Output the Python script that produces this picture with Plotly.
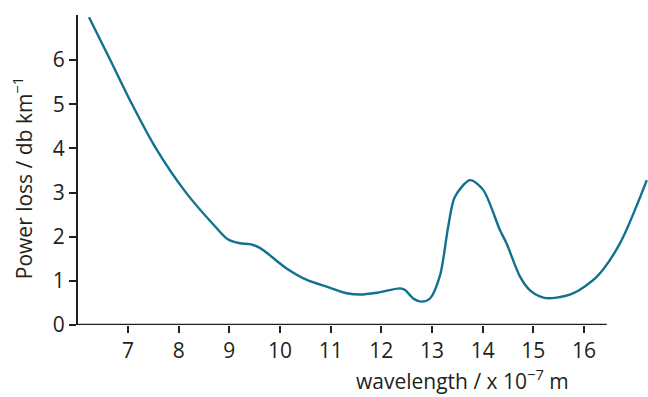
import plotly.graph_objects as go

# Attenuation of an optical fibre versus wavelength
wavelength = [6.23, 6.65, 7.07, 7.53, 8.13, 8.72, 8.97, 9.21, 9.41, 9.61,
              10.13, 10.53, 10.92, 11.32, 11.58, 11.91, 12.37, 12.47, 12.63,
              12.80, 12.96, 13.16, 13.32, 13.45, 13.75, 14.01, 14.34, 14.47,
              14.74, 14.93, 15.20, 15.46, 15.79, 16.25, 16.71, 17.24]
power_loss = [6.97, 6.00, 5.02, 4.04, 3.02, 2.23, 1.94, 1.85, 1.83, 1.74,
              1.28, 1.02, 0.87, 0.72, 0.69, 0.73, 0.83, 0.79, 0.60,
              0.53, 0.60, 1.13, 2.23, 2.90, 3.28, 3.06, 2.15, 1.85,
              1.09, 0.79, 0.62, 0.62, 0.72, 1.09, 1.85, 3.28]

x_ticks = [7, 8, 9, 10, 11, 12, 13, 14, 15, 16]
y_ticks = [0, 1, 2, 3, 4, 5, 6]

FONT = "Open Sans"
INK = "#231f20"
CURVE = "#11718f"
SIZE = 21

fig = go.Figure()
fig.add_trace(go.Scatter(
    x=wavelength, y=power_loss, mode="lines",
    line=dict(color=CURVE, width=2.4, shape="spline", smoothing=0.8),
    hoverinfo="skip", showlegend=False,
))

X_MIN, X_MAX = 6.013, 17.263
AXIS_END = 16.45

fig.update_layout(
    width=648, height=397,
    margin=dict(l=78, r=0, t=15, b=72),
    paper_bgcolor="white", plot_bgcolor="white",
    font=dict(family=FONT, size=SIZE, color=INK),
    xaxis=dict(
        range=[X_MIN, X_MAX], tickvals=x_ticks, ticktext=[str(v) for v in x_ticks],
        ticks="outside", ticklen=7, tickwidth=2, tickcolor=INK,
        tickfont=dict(family=FONT, size=SIZE, color=INK),
        showline=False, showgrid=False, zeroline=False, fixedrange=True,
    ),
    yaxis=dict(
        range=[0, 7.02], tickvals=y_ticks, ticktext=[str(v) for v in y_ticks],
        ticks="outside", ticklen=7, tickwidth=2, tickcolor=INK,
        tickfont=dict(family=FONT, size=SIZE, color=INK),
        showline=True, linecolor=INK, linewidth=2,
        showgrid=False, zeroline=False, fixedrange=True,
    ),
    shapes=[dict(
        type="line", xref="x", yref="y", x0=X_MIN, x1=AXIS_END, y0=0, y1=0,
        line=dict(color=INK, width=2.5), layer="above",
    )],
    annotations=[
        dict(text="wavelength / x 10<sup>−7</sup> m", xref="paper", yref="paper",
             x=0.675, y=-0.175, xanchor="center", yanchor="middle",
             showarrow=False, font=dict(family=FONT, size=SIZE, color=INK)),
        dict(text="Power loss / db km<sup>−1</sup>", xref="paper", yref="paper",
             x=-0.098, y=0.474, xanchor="center", yanchor="middle", textangle=-90,
             showarrow=False, font=dict(family=FONT, size=SIZE, color=INK)),
    ],
)

fig.write_html("out.html")
